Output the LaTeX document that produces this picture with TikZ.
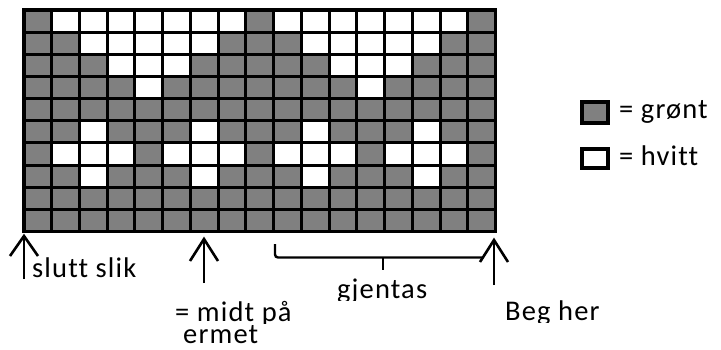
\documentclass[tikz,border=0pt]{standalone}
\usepackage{fontspec}
\setmainfont{Carlito}[LetterSpace=4,Ligatures={NoCommon,NoRequired}]
\definecolor{gronn}{HTML}{808080}
\begin{document}
\begin{tikzpicture}[x=1pt,y=-1pt,
  gridline/.style={line width=3pt,black},
  legendbox/.style={line width=4pt,black},
  lbl/.style={anchor=base west,inner sep=0pt,font=\fontsize{28.5}{31}\selectfont},
  arrowline/.style={line width=2.6pt,black,line join=miter}]
\useasboundingbox (0,0) rectangle (721,349);
\def\xa{24}\def\ya{10}\def\cw{27.735}\def\ch{22.15}
% background gray
\fill[gronn] (24,10) rectangle (495.5,231.5);
% white cells (col,row) 1-indexed
\foreach \c/\r in {2/1,3/1,4/1,5/1,6/1,7/1,8/1,10/1,11/1,12/1,13/1,14/1,15/1,16/1,
  3/2,4/2,5/2,6/2,7/2,11/2,12/2,13/2,14/2,15/2,
  4/3,5/3,6/3,12/3,13/3,14/3,
  5/4,13/4,
  3/6,7/6,11/6,15/6,
  2/7,3/7,4/7,6/7,7/7,8/7,10/7,11/7,12/7,14/7,15/7,16/7,
  3/8,7/8,11/8,15/8}{
  \fill[white] ({\xa+(\c-1)*\cw},{\ya+(\r-1)*\ch}) rectangle ({\xa+\c*\cw},{\ya+\r*\ch});
}
\foreach \i in {0,...,17}{\draw[gridline] ({\xa+\i*\cw},8.5) -- ({\xa+\i*\cw},233);}
\foreach \j in {0,...,10}{\draw[gridline] (22.5,{\ya+\j*\ch}) -- (497,{\ya+\j*\ch});}
\draw[line width=3.4pt] (24,10) rectangle (495.5,231.5);
% legend
\node[draw,legendbox,fill=gronn,minimum width=26pt,minimum height=21pt,inner sep=0pt,anchor=north west] (lg) at (580,100) {};
\node[draw,legendbox,fill=white,minimum width=26pt,minimum height=19pt,inner sep=0pt,anchor=north west] (lw) at (580,147) {};
\node[lbl] (tg) at (619,118) {= grønt};
\node[lbl] (tw) at (619,165) {= hvitt};
% arrows
\coordinate (a1t) at (24,236); \coordinate (a1b) at (24,279);
\draw[arrowline] (a1b) -- (a1t);
\draw[arrowline] (10,256) -- (a1t) -- (38,256);
\coordinate (a2t) at (204,239); \coordinate (a2b) at (204,283);
\draw[arrowline] (a2b) -- (a2t);
\draw[arrowline] (190,261) -- (a2t) -- (218,261);
\coordinate (a3t) at (494,240); \coordinate (a3b) at (494,285);
\draw[arrowline] (a3b) -- (a3t);
\draw[arrowline] (480,262) -- (a3t) -- (508,262);
% bracket
\coordinate (bl) at (275,244); \coordinate (br) at (483,257.5); \coordinate (bm) at (383,257.5); \coordinate (bmt) at (383,270);
\draw[line width=2.4pt,rounded corners=3pt] (bl) -- (275,257.5) -- (br);
\draw[line width=2.4pt] (bm) -- (bmt);
% labels
\node[lbl] (t1) at (32,277) {slutt slik};
\begin{scope}
\clip (150,290) rectangle (330,323);
\node[lbl,text depth=0pt] (t2) at (175,321.5) {= midt på};
\end{scope}
\node[lbl] (t3) at (183,343) {ermet};
\begin{scope}
\clip (320,270) rectangle (450,300);
\node[lbl,text depth=0pt] (t4) at (337,298) {gjentas};
\end{scope}
\begin{scope}
\clip (495,290) rectangle (620,322);
\node[lbl,text depth=0pt] (t5) at (505,320.5) {Beg her};
\end{scope}
\end{tikzpicture}
\end{document}
